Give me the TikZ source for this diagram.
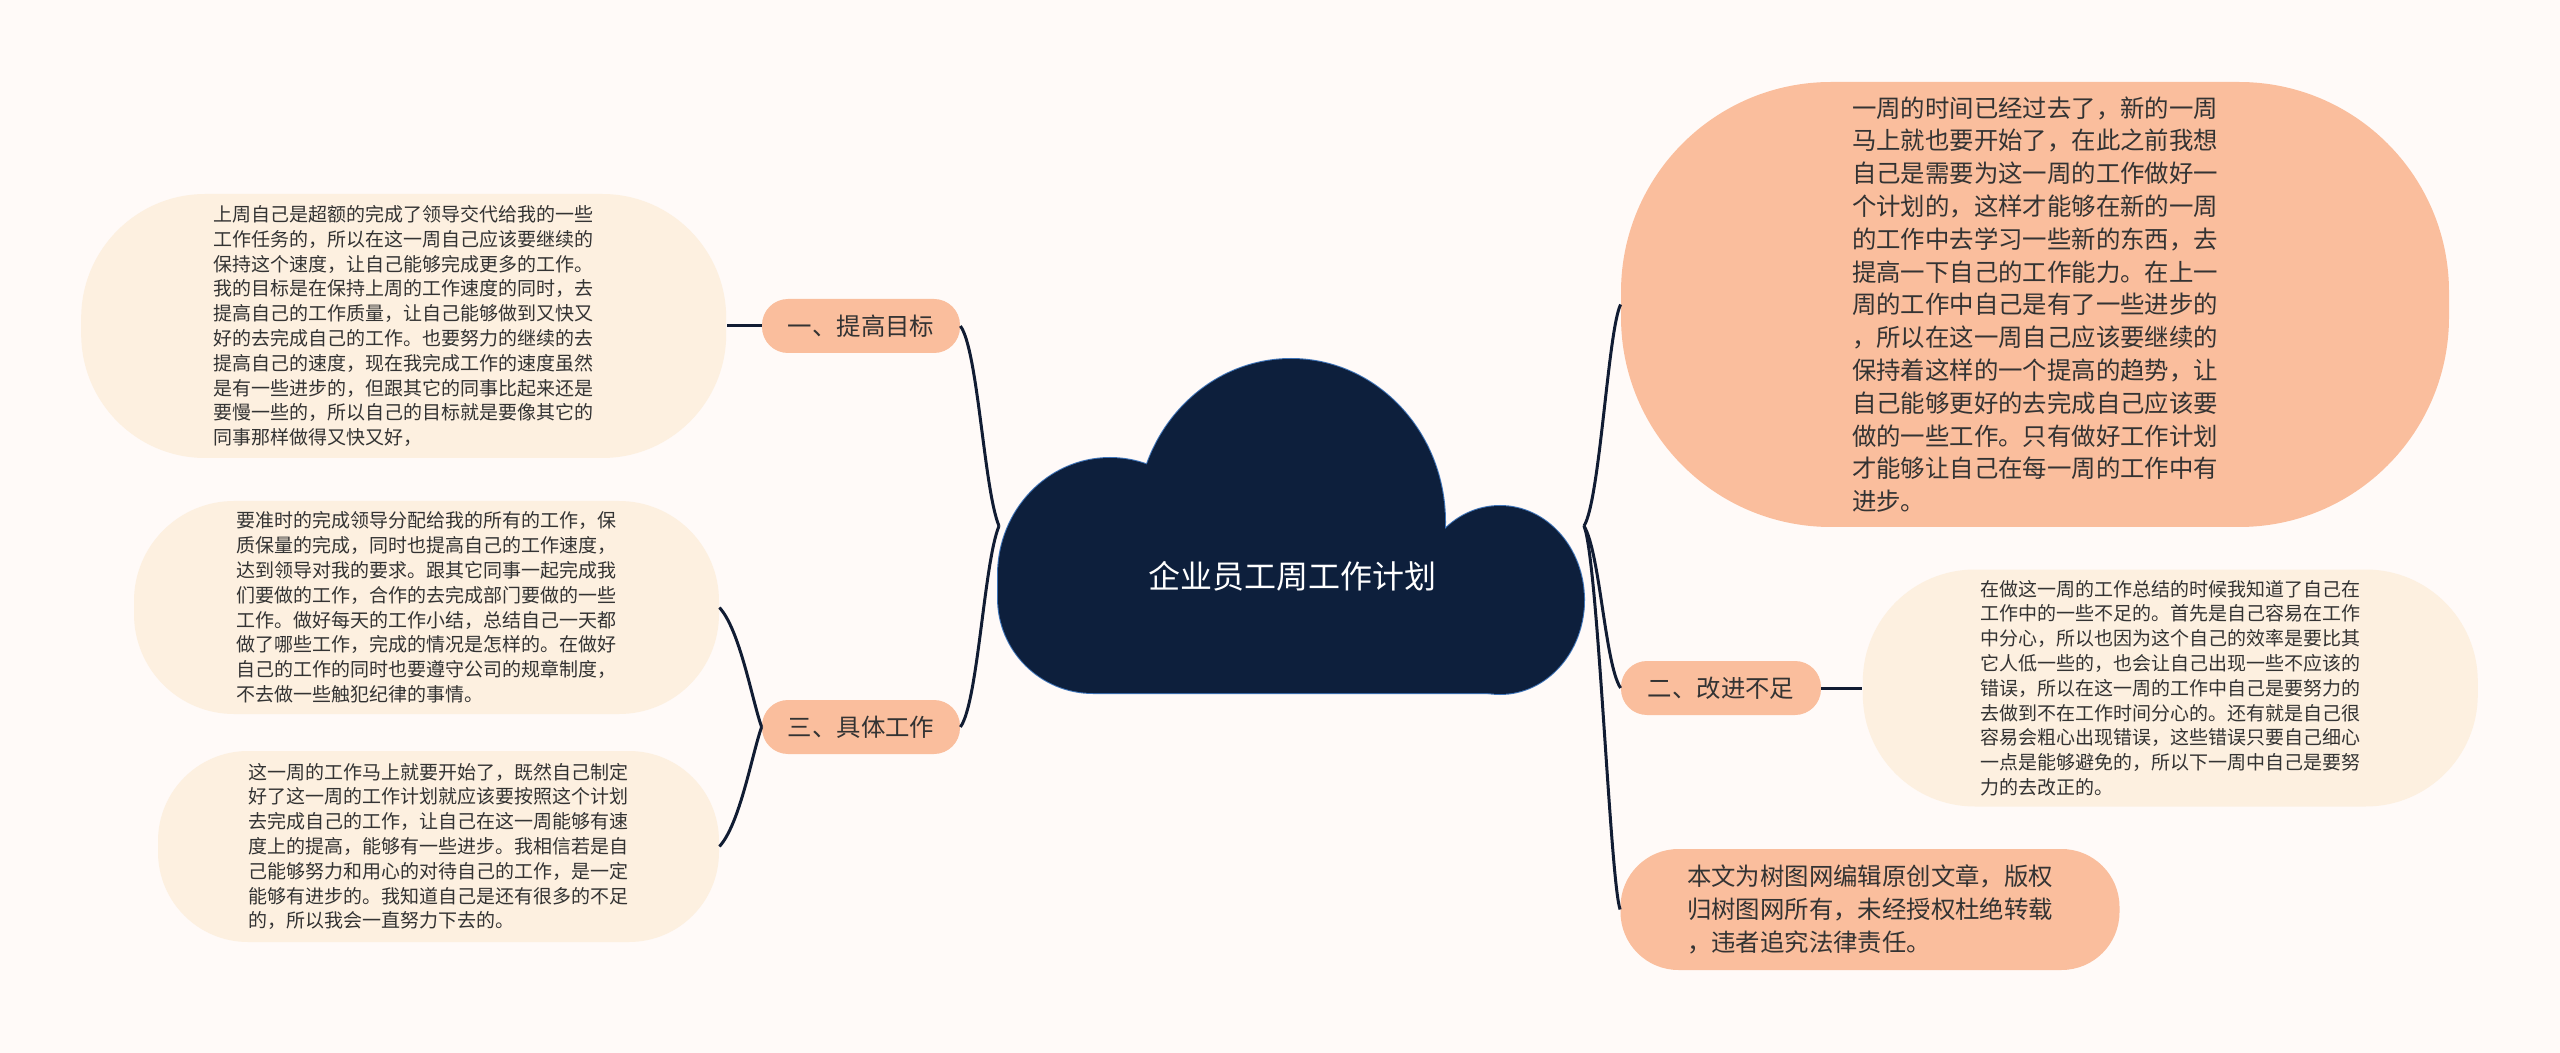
\documentclass[tikz,border=0pt]{standalone}
\usepackage{fontspec}
\setmainfont{Noto Sans CJK SC}
\usetikzlibrary{positioning}
\definecolor{pagebg}{HTML}{FFFAF8}
\definecolor{peach}{HTML}{FABE9D}
\definecolor{cream}{HTML}{FDF0E0}
\definecolor{cloudnavy}{HTML}{0D1F3C}
\definecolor{cloudedge}{HTML}{3F74B8}
\definecolor{linknavy}{HTML}{111C33}
\definecolor{inkgrey}{HTML}{333333}
\tikzset{
  leafbox/.style={rectangle,fill=cream,align=left,text=inkgrey,inner sep=0pt,font=\fontsize{9.5}{12.4}\selectfont},
  peachbox/.style={rectangle,fill=peach,align=left,text=inkgrey,inner sep=0pt,font=\fontsize{12.2}{16.4}\selectfont},
  branchbox/.style={rectangle,rounded corners=13pt,fill=peach,text=inkgrey,inner sep=0pt,minimum width=99pt,minimum height=27pt,font=\fontsize{12.2}{14}\selectfont},
  titletext/.style={text=white,inner sep=0pt,font=\fontsize{16}{18}\selectfont},
  cloudrim/.style={fill=cloudnavy,draw=cloudedge,line width=1pt},
  cloudbody/.style={fill=cloudnavy,draw=none},
  link/.style={draw=linknavy,line width=1.5pt}
}

\begin{document}
\begin{tikzpicture}[x=0.5pt,y=-0.5pt]
  \path[use as bounding box,fill=pagebg] (0,0) rectangle (2560,1053);

  % cloud: rim pass, then body pass
  \path[cloudrim] (1110,575) ellipse [x radius=112,y radius=117];
  \path[cloudrim] (1291,522) ellipse [x radius=154,y radius=163];
  \path[cloudrim] (1500,600) ellipse [x radius=84,y radius=94];
  \path[cloudrim] (998,575) -- (998,598) .. controls (998,650.5) and (1040.5,693) .. (1093,693)
    -- (1489,693) .. controls (1541.5,693) and (1584,650.5) .. (1584,598) -- (1500,560) -- (1110,560) -- cycle;
  \path[cloudbody] (1110,575) ellipse [x radius=112,y radius=117];
  \path[cloudbody] (1291,522) ellipse [x radius=154,y radius=163];
  \path[cloudbody] (1500,600) ellipse [x radius=84,y radius=94];
  \path[cloudbody] (998,575) -- (998,598) .. controls (998,650.5) and (1040.5,693) .. (1093,693)
    -- (1489,693) .. controls (1541.5,693) and (1584,650.5) .. (1584,598) -- (1500,560) -- (1110,560) -- cycle;

  \node[titletext] (title) at (1292,576) {企业员工周工作计划};
  \coordinate (rootL) at (999,526);
  \coordinate (rootR) at (1584,526);

  \node[branchbox] (goal1) at (861,326) {一、提高目标};
  \node[branchbox] (work3) at (861,727) {三、具体工作};
  \node[branchbox,minimum width=100pt] (improve2) at (1721,688) {二、改进不足};

  \node[leafbox,left=17.5pt of goal1,minimum width=322.5pt,minimum height=132pt,rounded corners=62pt] (goalleaf) {上周自己是超额的完成了领导交代给我的一些\\工作任务的，所以在这一周自己应该要继续的\\保持这个速度，让自己能够完成更多的工作。\\我的目标是在保持上周的工作速度的同时，去\\提高自己的工作质量，让自己能够做到又快又\\好的去完成自己的工作。也要努力的继续的去\\提高自己的速度，现在我完成工作的速度虽然\\是有一些进步的，但跟其它的同事比起来还是\\要慢一些的，所以自己的目标就是要像其它的\\同事那样做得又快又好，};
  \node[leafbox,minimum width=292.5pt,minimum height=106.5pt,rounded corners=50pt] (dutyleaf) at (426.5,607.5) {要准时的完成领导分配给我的所有的工作，保\\质保量的完成，同时也提高自己的工作速度，\\达到领导对我的要求。跟其它同事一起完成我\\们要做的工作，合作的去完成部门要做的一些\\工作。做好每天的工作小结，总结自己一天都\\做了哪些工作，完成的情况是怎样的。在做好\\自己的工作的同时也要遵守公司的规章制度，\\不去做一些触犯纪律的事情。};
  \node[leafbox,minimum width=280.5pt,minimum height=95.5pt,rounded corners=45pt] (planleaf) at (438.5,846.5) {这一周的工作马上就要开始了，既然自己制定\\好了这一周的工作计划就应该要按照这个计划\\去完成自己的工作，让自己在这一周能够有速\\度上的提高，能够有一些进步。我相信若是自\\己能够努力和用心的对待自己的工作，是一定\\能够有进步的。我知道自己是还有很多的不足\\的，所以我会一直努力下去的。};

  \node[peachbox,minimum width=414pt,minimum height=222.5pt,rounded corners=105pt] (weekleaf) at (2035,304.5) {一周的时间已经过去了，新的一周\\马上就也要开始了，在此之前我想\\自己是需要为这一周的工作做好一\\个计划的，这样才能够在新的一周\\的工作中去学习一些新的东西，去\\提高一下自己的工作能力。在上一\\周的工作中自己是有了一些进步的\\，所以在这一周自己应该要继续的\\保持着这样的一个提高的趋势，让\\自己能够更好的去完成自己应该要\\做的一些工作。只有做好工作计划\\才能够让自己在每一周的工作中有\\进步。};
  \node[leafbox,right=20.5pt of improve2,minimum width=307.5pt,minimum height=118.5pt,rounded corners=56pt] (flawleaf) {在做这一周的工作总结的时候我知道了自己在\\工作中的一些不足的。首先是自己容易在工作\\中分心，所以也因为这个自己的效率是要比其\\它人低一些的，也会让自己出现一些不应该的\\错误，所以在这一周的工作中自己是要努力的\\去做到不在工作时间分心的。还有就是自己很\\容易会粗心出现错误，这些错误只要自己细心\\一点是能够避免的，所以下一周中自己是要努\\力的去改正的。};
  \node[peachbox,minimum width=249.5pt,minimum height=60.5pt,rounded corners=29pt] (noteleaf) at (1870,909.5) {本文为树图网编辑原创文章，版权\\归树图网所有，未经授权杜绝转载\\，违者追究法律责任。};

  \draw[link] (rootL) .. controls (984,490) and (978,350) .. (goal1.east);
  \draw[link] (rootL) .. controls (984,562) and (978,703) .. (work3.east);
  \draw[link] (work3.west) .. controls (752,700) and (740,630) .. (dutyleaf.east);
  \draw[link] (work3.west) .. controls (752,754) and (740,824) .. (planleaf.east);
  \draw[link] (goal1.west) -- (goalleaf.east);
  \draw[link] (rootR) .. controls (1600,500) and (1608,330) .. (weekleaf.west);
  \draw[link] (rootR) .. controls (1600,552) and (1605,665) .. (improve2.west);
  \draw[link] (rootR) .. controls (1598,560) and (1610,880) .. (noteleaf.west);
  \draw[link] (improve2.east) -- (flawleaf.west);
\end{tikzpicture}
\end{document}
